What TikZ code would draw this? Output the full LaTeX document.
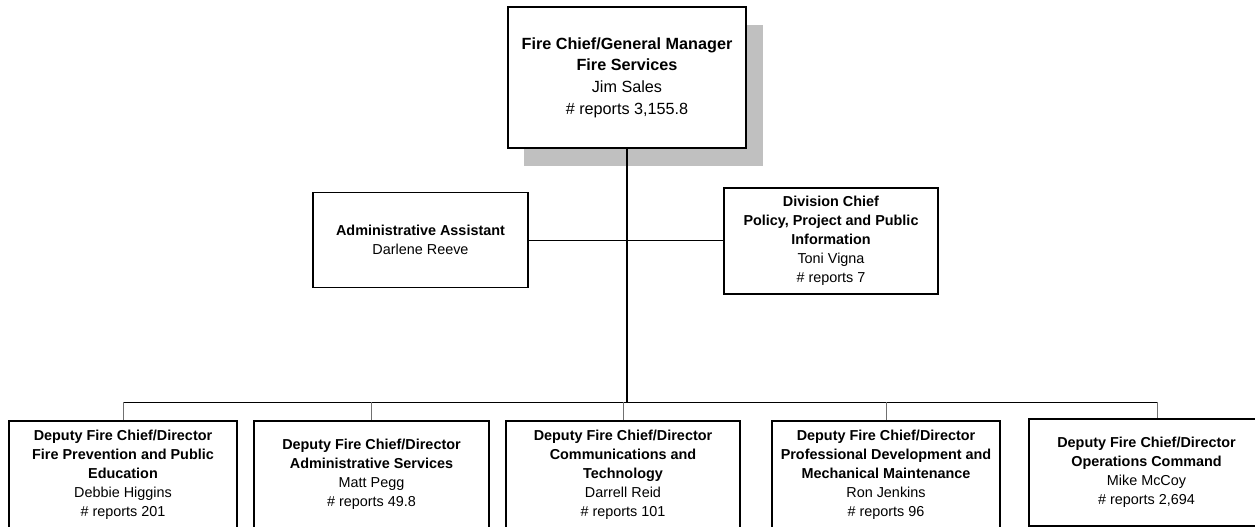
\documentclass[tikz,border=0pt]{standalone}
\usepackage{fontspec}
\setmainfont{Liberation Sans}
\definecolor{shadowgray}{HTML}{C0C0C0}
\definecolor{dropgray}{HTML}{707070}
\begin{document}
\begin{tikzpicture}[x=1pt,y=-1pt,
  orgbox/.style={draw=black,line width=1.1pt,fill=white,align=center,inner sep=0pt,
    font=\fontsize{14.4}{19}\selectfont},
  chiefbox/.style={orgbox,font=\fontsize{16.2}{21.6}\selectfont},
  shadowbox/.style={fill=shadowgray,draw=none,inner sep=0pt},
  mainline/.style={draw=black,line width=1.5pt},
  busline/.style={draw=black,line width=1pt},
  dropline/.style={draw=dropgray,line width=1pt},
  connline/.style={draw=black,line width=1pt}]
\useasboundingbox (0,0) rectangle (1255,527);
\clip (0,0) rectangle (1255,527);

% top box with shadow
\node[shadowbox,minimum width=239pt,minimum height=141pt] (chiefshadow) at (643.5,95.5) {};
\node[chiefbox,minimum width=238pt,minimum height=141pt] (chief) at (627,77.5)
  {\textbf{Fire Chief/General Manager}\\\textbf{Fire Services}\\Jim Sales\\\# reports 3,155.8};

% staff boxes
\node[orgbox,minimum width=215pt,minimum height=95pt] (admin) at (420.5,240)
  {\textbf{Administrative Assistant}\\Darlene Reeve};
\node[orgbox,minimum width=214pt,minimum height=106pt] (division) at (831,241)
  {\textbf{Division Chief}\\\textbf{Policy, Project and Public}\\\textbf{Information}\\Toni Vigna\\\# reports 7};

% bottom boxes
\node[orgbox,minimum width=228pt,minimum height=107pt] (b1) at (123,474.5)
  {\textbf{Deputy Fire Chief/Director}\\\textbf{Fire Prevention and Public}\\\textbf{Education}\\Debbie Higgins\\\# reports 201};
\node[orgbox,minimum width=235pt,minimum height=107pt] (b2) at (371.5,474.5)
  {\textbf{Deputy Fire Chief/Director}\\\textbf{Administrative Services}\\Matt Pegg\\\# reports 49.8};
\node[orgbox,minimum width=234pt,minimum height=107pt] (b3) at (623,474.5)
  {\textbf{Deputy Fire Chief/Director}\\\textbf{Communications and}\\\textbf{Technology}\\Darrell Reid\\\# reports 101};
\node[orgbox,minimum width=228pt,minimum height=107pt] (b4) at (886,474.5)
  {\textbf{Deputy Fire Chief/Director}\\\textbf{Professional Development and}\\\textbf{Mechanical Maintenance}\\Ron Jenkins\\\# reports 96};
\node[orgbox,minimum width=235pt,minimum height=107pt] (b5) at (1146.5,472.5)
  {\textbf{Deputy Fire Chief/Director}\\\textbf{Operations Command}\\Mike McCoy\\\# reports 2,694};

% connectors
\coordinate (bus) at (627,402);
\coordinate (b5top) at ([xshift=10.5pt]b5.north);
\draw[connline] (admin.east) -- (admin.east -| division.west);
\draw[mainline] (chief.south) -- (bus);
\draw[busline] (b1.north |- bus) -- (b5top |- bus);
\foreach \b in {b1,b2,b3,b4} \draw[dropline] (\b.north |- bus) -- (\b.north);
\draw[dropline] (b5top |- bus) -- (b5top);
\end{tikzpicture}
\end{document}
